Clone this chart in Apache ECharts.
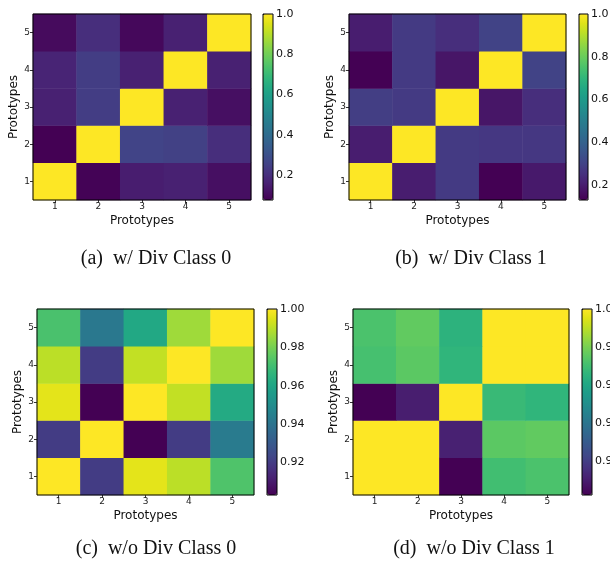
<!DOCTYPE html>
<html><head><meta charset="utf-8">
<script src="https://cdn.jsdelivr.net/npm/echarts@6/dist/echarts.min.js"></script>
<style>html,body{margin:0;padding:0;background:#fff}#c{width:610px;height:562px}</style>
</head><body><div id="c"></div>
<script>
// categories / tick labels
var prototypes = ['1','2','3','4','5'];
// matrices: each row is one y-category (Prototype 1 at bottom ... 5 at top), columns x = 1..5
var withDivClass0 = [
  [1.000, 0.080, 0.149, 0.158, 0.112],
  [0.075, 1.000, 0.260, 0.250, 0.195],
  [0.158, 0.240, 1.000, 0.158, 0.112],
  [0.168, 0.240, 0.158, 1.000, 0.158],
  [0.100, 0.195, 0.093, 0.158, 1.000]
];
var withDivClass1 = [
  [1.000, 0.200, 0.278, 0.130, 0.190],
  [0.200, 1.000, 0.278, 0.270, 0.270],
  [0.287, 0.278, 1.000, 0.180, 0.243],
  [0.130, 0.278, 0.180, 1.000, 0.300],
  [0.200, 0.278, 0.243, 0.300, 1.000]
];
var withoutDivClass0 = [
  [1.000, 0.920, 0.996, 0.990, 0.973],
  [0.920, 1.000, 0.903, 0.920, 0.943],
  [0.996, 0.903, 1.000, 0.991, 0.962],
  [0.990, 0.920, 0.991, 1.000, 0.986],
  [0.972, 0.942, 0.961, 0.986, 1.000]
];
var withoutDivClass1 = [
  [1.000, 1.000, 0.902, 0.970, 0.972],
  [1.000, 1.000, 0.911, 0.975, 0.976],
  [0.902, 0.910, 1.000, 0.968, 0.966],
  [0.971, 0.975, 0.966, 1.000, 1.000],
  [0.972, 0.976, 0.965, 1.000, 1.000]
];
// colour-bar ranges and tick labels
var cbRangeA = [0.075, 1.0], cbTicksA = [0.2, 0.4, 0.6, 0.8, 1.0];
var cbRangeB = [0.13, 1.0],  cbTicksB = [0.2, 0.4, 0.6, 0.8, 1.0];
var cbRangeC = [0.903, 1.0], cbTicksC = [0.92, 0.94, 0.96, 0.98, 1.00];
var cbRangeD = [0.902, 1.0], cbTicksD = [0.92, 0.94, 0.96, 0.98, 1.00];
var captions = ['(a)  w/ Div Class 0', '(b)  w/ Div Class 1', '(c)  w/o Div Class 0', '(d)  w/o Div Class 1'];

var viridis = ['#440154','#471365','#482475','#463480','#414487','#3b528b','#355f8d','#2f6c8e','#2a788e','#25848e','#21918c','#1e9c89','#22a884','#2fb47c','#44bf70','#5ec962','#7ad151','#9bd93c','#bddf26','#dfe318','#fde725'];

var panels = [
  {m: withDivClass0, r: cbRangeA, t: cbTicksA, d: 1, g: {left: 33, top: 14, width: 218, height: 186}, cb: {left: 263, width: 10}, cap: [156, 259]},
  {m: withDivClass1, r: cbRangeB, t: cbTicksB, d: 1, g: {left: 349, top: 14, width: 217, height: 186}, cb: {left: 579, width: 9}, cap: [471, 259]},
  {m: withoutDivClass0, r: cbRangeC, t: cbTicksC, d: 2, g: {left: 37, top: 309, width: 217, height: 186}, cb: {left: 267, width: 10}, cap: [156, 549]},
  {m: withoutDivClass1, r: cbRangeD, t: cbTicksD, d: 2, g: {left: 353, top: 309, width: 216, height: 186}, cb: {left: 582, width: 10}, cap: [474, 549]}
];

var FONT = 'DejaVu Sans';
var option = {animation: false, grid: [], xAxis: [], yAxis: [], series: [], visualMap: [], graphic: []};

panels.forEach(function (p, i) {
  var gi = option.grid.length;
  option.grid.push({left: p.g.left, top: p.g.top, width: p.g.width, height: p.g.height, outerBoundsMode: 'none', containLabel: false,
    show: true, borderColor: '#000', borderWidth: 1, backgroundColor: 'transparent', z: 5});
  option.xAxis.push({type: 'category', gridIndex: gi, data: prototypes,
    name: 'Prototypes', nameLocation: 'middle', nameGap: 15,
    nameTextStyle: {fontFamily: FONT, fontSize: 12, color: '#111'},
    axisLine: {show: false}, axisTick: {show: true, alignWithLabel: true, length: 3, lineStyle: {color: '#333'}},
    axisLabel: {fontFamily: FONT, fontSize: 9, color: '#222', margin: 2}, splitLine: {show: false}});
  option.yAxis.push({type: 'category', gridIndex: gi, data: prototypes,
    name: 'Prototypes', nameLocation: 'middle', nameGap: 12,
    nameTextStyle: {fontFamily: FONT, fontSize: 12, color: '#111'},
    axisLine: {show: false}, axisTick: {show: true, alignWithLabel: true, length: 3, lineStyle: {color: '#333'}},
    axisLabel: {fontFamily: FONT, fontSize: 9, color: '#222', margin: 3}, splitLine: {show: false}});
  var data = [];
  p.m.forEach(function (row, yi) { row.forEach(function (v, xi) { data.push([xi, yi, v]); }); });
  var si = option.series.length;
  option.series.push({type: 'heatmap', xAxisIndex: gi, yAxisIndex: gi, data: data, itemStyle: {borderWidth: 0}, emphasis: {disabled: true}});
  option.visualMap.push({type: 'continuous', seriesIndex: si, min: p.r[0], max: p.r[1], calculable: false,
    left: p.cb.left, top: p.g.top, itemWidth: p.cb.width, itemHeight: p.g.height, padding: 0,
    text: null, showLabel: false, hoverLink: false, inRange: {color: viridis}});
  // colour-bar frame and axis
  var ci = option.grid.length;
  option.grid.push({left: p.cb.left, top: p.g.top, width: p.cb.width, height: p.g.height, outerBoundsMode: 'none', containLabel: false,
    show: true, borderColor: '#000', borderWidth: 1, backgroundColor: 'transparent', z: 10});
  option.xAxis.push({type: 'value', gridIndex: ci, show: false, min: 0, max: 1});
  option.yAxis.push({type: 'value', gridIndex: ci, position: 'right', min: p.r[0], max: p.r[1],
    axisLine: {show: false}, splitLine: {show: false},
    axisTick: {show: true, length: 3, customValues: p.t, lineStyle: {color: '#000'}},
    axisLabel: {show: true, customValues: p.t, fontFamily: FONT, fontSize: 11, color: '#111', margin: 3,
      formatter: (function (d) { return function (v) { return Number(v).toFixed(d); }; })(p.d)}});
  option.graphic.push({type: 'text', x: p.cap[0], y: p.cap[1],
    style: {text: captions[i], font: '20px "Liberation Serif"', fill: '#111', align: 'center', verticalAlign: 'middle'}});
});

var chart = echarts.init(document.getElementById('c'), null, {renderer: 'canvas'});
chart.setOption(option);
</script>
</body></html>
